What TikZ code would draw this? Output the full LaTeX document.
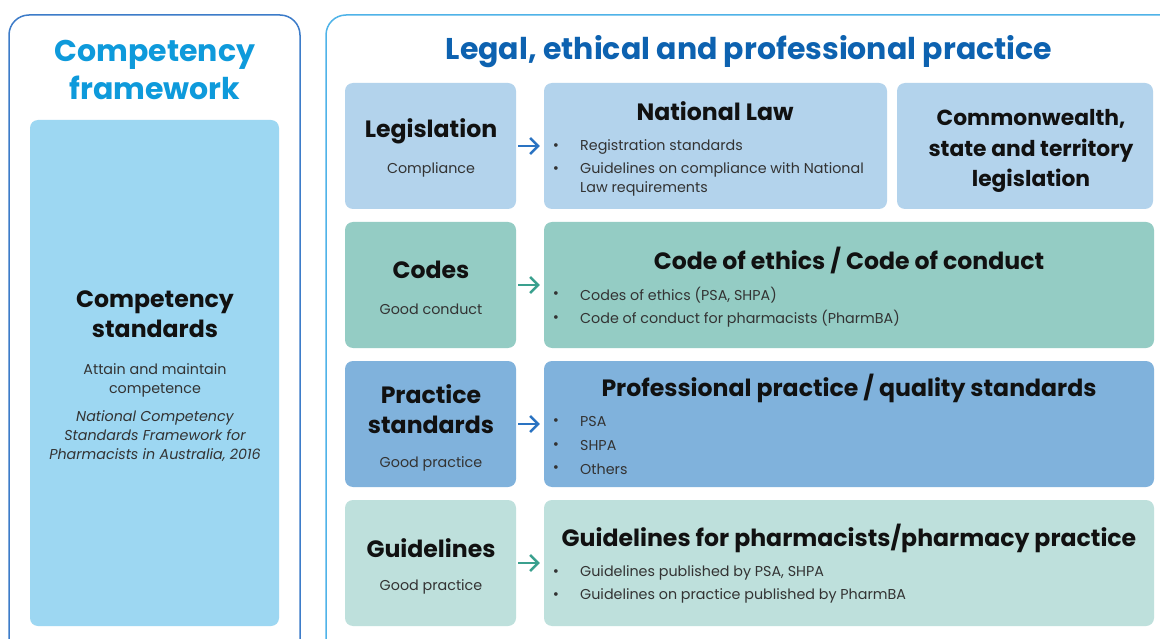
\documentclass[tikz,border=0pt]{standalone}
\usepackage{fontspec}
\setmainfont{Poppins}
\usetikzlibrary{arrows.meta}

\definecolor{compfill}{HTML}{9DD7F2}
\definecolor{legfill}{HTML}{B3D3EC}
\definecolor{codefill}{HTML}{94CCC4}
\definecolor{pracfill}{HTML}{80B2DC}
\definecolor{guidefill}{HTML}{BEE0DC}
\definecolor{leftedge}{HTML}{3D7CC9}
\definecolor{rightedge}{HTML}{4FB3E8}
\definecolor{lefttitle}{HTML}{0E9ADB}
\definecolor{righttitle}{HTML}{0D62B0}
\definecolor{arrblue}{HTML}{2A73C2}
\definecolor{arrteal}{HTML}{3AA08E}
\definecolor{headtext}{HTML}{111111}
\definecolor{bodytext}{HTML}{333333}

\tikzset{
  panel/.style={draw, line width=1.5pt, rounded corners=20pt},
  box/.style={rectangle, rounded corners=8pt, inner sep=0pt},
  bigtitle/.style={font=\fontsize{30}{38}\selectfont\bfseries, align=center, inner sep=0pt},
  heading/.style={font=\fontsize{23.6}{30.5}\selectfont\bfseries, text=headtext, align=center, inner sep=0pt},
  subtext/.style={font=\fontsize{14.3}{19}\selectfont, text=bodytext, align=center, inner sep=0pt},
  item/.style={font=\fontsize{14.3}{19}\selectfont, text=bodytext, anchor=west, align=left, inner sep=0pt},
  dot/.style={font=\fontsize{15}{15}\selectfont, text=bodytext, inner sep=0pt},
  link/.style={line width=2.5pt, -{Straight Barb[length=8pt,width=16pt]}, shorten <=2pt, shorten >=4pt}
}

\begin{document}
\begin{tikzpicture}[x=1pt,y=-1pt]
\useasboundingbox (0,0) rectangle (1160,639);
\fill[white] (0,0) rectangle (1160,639);

% outer panels
\draw[panel, leftedge] (9,15) rectangle (300,660);
\draw[panel, rightedge] (326,15) rectangle (1185,660);

% left column
\node[bigtitle, text=lefttitle] (cftitle) at (155,70) {Competency\\framework};
\node[box, fill=compfill, minimum width=249pt, minimum height=506pt] (comp) at (154.5,373) {};
\node[heading] (comphead) at (155,314) {Competency\\standards};
\node[subtext] (compsub) at (155,380) {Attain and maintain\\competence};
\node[subtext, font=\fontsize{14.3}{19}\selectfont\itshape] (compref) at (155,436) {National Competency\\Standards Framework for\\Pharmacists in Australia, 2016};

% right column title
\node[bigtitle, text=righttitle] (lptitle) at (749,52) {Legal, ethical and professional practice};

% row 1: legislation
\node[box, fill=legfill, minimum width=171pt, minimum height=126pt] (leg) at (430.5,146) {};
\node[heading] at (431,131) {Legislation};
\node[subtext] at (431,170) {Compliance};
\node[box, fill=legfill, minimum width=343pt, minimum height=126pt] (natlaw) at (715.5,146) {};
\node[heading] at (715,111) {National Law};
\node[dot] at (556,147) {\textbullet};
\node[item] at (580,147) {Registration standards};
\node[dot] at (556,170) {\textbullet};
\node[item] at (580,179.5) {Guidelines on compliance with National\\Law requirements};
\node[box, fill=legfill, minimum width=256pt, minimum height=126pt] (cwlth) at (1025,146) {};
\node[heading, font=\fontsize{21.8}{30.5}\selectfont\bfseries] at (1031,151) {Commonwealth,\\state and territory\\legislation};
\draw[link, arrblue] (leg) -- (natlaw);

% row 2: codes
\node[box, fill=codefill, minimum width=171pt, minimum height=126pt] (codes) at (430.5,285) {};
\node[heading] at (431,270) {Codes};
\node[subtext] at (431,309) {Good conduct};
\node[box, fill=codefill, minimum width=610pt, minimum height=126pt] (ethics) at (849,285) {};
\node[heading] at (849,260) {Code of ethics / Code of conduct};
\node[dot] at (556,295) {\textbullet};
\node[item] at (580,295) {Codes of ethics (PSA, SHPA)};
\node[dot] at (556,319) {\textbullet};
\node[item] at (580,319) {Code of conduct for pharmacists (PharmBA)};
\draw[link, arrteal] (codes) -- (ethics);

% row 3: practice standards
\node[box, fill=pracfill, minimum width=171pt, minimum height=126pt] (prac) at (430.5,424) {};
\node[heading] at (431,409) {Practice\\standards};
\node[subtext] at (431,464) {Good practice};
\node[box, fill=pracfill, minimum width=610pt, minimum height=126pt] (quality) at (849,424) {};
\node[heading] at (849,388) {Professional practice / quality standards};
\node[dot] at (556,422) {\textbullet};
\node[item] at (580,422) {PSA};
\node[dot] at (556,446) {\textbullet};
\node[item] at (580,446) {SHPA};
\node[dot] at (556,469) {\textbullet};
\node[item] at (580,469) {Others};
\draw[link, arrblue] (prac) -- (quality);

% row 4: guidelines
\node[box, fill=guidefill, minimum width=171pt, minimum height=126pt] (guide) at (430.5,563) {};
\node[heading] at (431,548) {Guidelines};
\node[subtext] at (431,587) {Good practice};
\node[box, fill=guidefill, minimum width=610pt, minimum height=126pt] (pharm) at (849,563) {};
\node[heading] at (849,538) {Guidelines for pharmacists/pharmacy practice};
\node[dot] at (556,573) {\textbullet};
\node[item] at (580,573) {Guidelines published by PSA, SHPA};
\node[dot] at (556,596) {\textbullet};
\node[item] at (580,596) {Guidelines on practice published by PharmBA};
\draw[link, arrteal] (guide) -- (pharm);
\end{tikzpicture}
\end{document}
